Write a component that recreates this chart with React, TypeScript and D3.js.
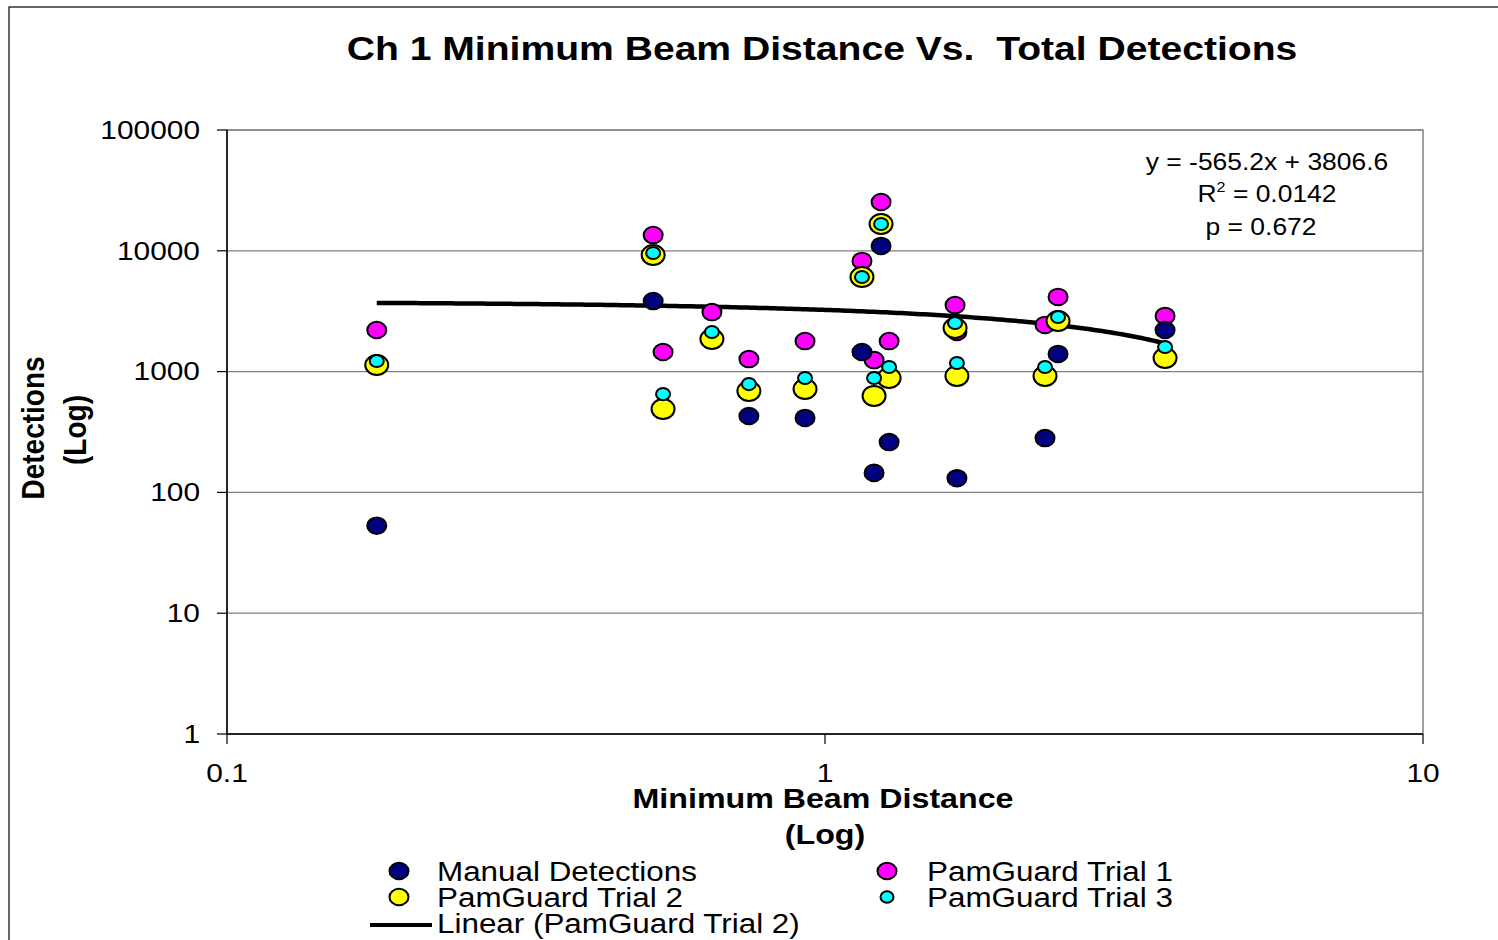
import React from "react";
import * as d3 from "d3";

// Minimum beam distance (x) shared by all series
const distances = [0.178, 0.516, 0.536, 0.647, 0.746, 0.926, 1.153, 1.208, 1.241, 1.28, 1.65, 1.662, 2.333, 2.453, 3.704];
const manualDetections: (number | null)[] = [53, 3840, null, null, 429, 413, 1453, 145, 10960, 261, null, 131, 282, 1399, 2210];
const trial1 = [2210, 13500, 1453, 3113, 1271, 1791, 8240, 1247, 25350, 1791, 3558, 2128, 2432, 4150, 2886];
const trial2 = [1135, 9230, 490, 1862, 691, 718, 6070, 629, 16670, 885, 2296, 920, 920, 2624, 1297];
const trial3 = [1224, 9590, 652, 2128, 789, 885, 6070, 885, 16670, 1092, 2525, 1178, 1092, 2832, 1599];

const yTicks = [1, 10, 100, 1000, 10000, 100000];
const xTicks = [0.1, 1, 10];
const trendSlope = -565.2;
const trendIntercept = 3806.6;
const equationLines = ["y = -565.2x + 3806.6", "0.0142", "p = 0.672"];

const W = 1498, H = 940;
const SX = 1.15;
const FONT = "'Liberation Sans', Arial, sans-serif";

function T({ x, y, size, bold, anchor = "middle", rotate, children, pre }: any) {
  return (
    <text
      transform={`translate(${x},${y}) scale(${SX},1)${rotate ? ` rotate(${rotate})` : ""}`}
      fontSize={size}
      fontWeight={bold ? "bold" : "normal"}
      textAnchor={anchor}
      dominantBaseline="central"
      fontFamily={FONT}
      fill="#000"
      style={pre ? { whiteSpace: "pre" } : undefined}
    >
      {children}
    </text>
  );
}

export default function App() {
  const x = d3.scaleLog().domain([0.1, 10]).range([227, 1423]);
  const y = d3.scaleLog().domain([1, 100000]).range([734, 130]);

  const xs = d3.extent(distances) as [number, number];
  const samples = d3.range(0, 201).map((i) => {
    const lx = Math.log10(xs[0]) + (i / 200) * (Math.log10(xs[1]) - Math.log10(xs[0]));
    const xv = Math.pow(10, lx);
    return [xv, trendSlope * xv + trendIntercept] as [number, number];
  });
  const line = d3.line<[number, number]>().x((d) => x(d[0])).y((d) => y(d[1]));

  const series = [
    { name: "PamGuard Trial 1", vals: trial1 as (number | null)[], fill: "#FF00FF", rx: 9.5, ry: 8.3 },
    { name: "Manual Detections", vals: manualDetections, fill: "#000080", rx: 9.5, ry: 8.3 },
    { name: "PamGuard Trial 2", vals: trial2 as (number | null)[], fill: "#FFFF00", rx: 11.5, ry: 10 },
    { name: "PamGuard Trial 3", vals: trial3 as (number | null)[], fill: "#00FFFF", rx: 7, ry: 6.1 },
  ];

  const legend = [
    { name: "Manual Detections", fill: "#000080", rx: 9.5, ry: 8.3, lx: 399, tx: 437, ly: 871 },
    { name: "PamGuard Trial 1", fill: "#FF00FF", rx: 9.5, ry: 8.3, lx: 887, tx: 927, ly: 871 },
    { name: "PamGuard Trial 2", fill: "#FFFF00", rx: 9.5, ry: 8.3, lx: 399, tx: 437, ly: 897 },
    { name: "PamGuard Trial 3", fill: "#00FFFF", rx: 6.5, ry: 5.7, lx: 887, tx: 927, ly: 897 },
  ];

  return (
    <svg width={W} height={H} style={{ position: "absolute", left: 0, top: 0, background: "#fff" }}>
      <rect x={0} y={0} width={W} height={H} fill="#fff" />
      <rect x={9} y={7} width={W + 20} height={H + 20} fill="none" stroke="#000" strokeWidth={1.2} />

      <T x={822} y={48} size={34} bold pre>
        {"Ch 1 Minimum Beam Distance Vs.  Total Detections"}
      </T>

      {/* gridlines */}
      {yTicks.map((t) => (
        <line key={"g" + t} x1={227} x2={1423} y1={y(t)} y2={y(t)} stroke="#808080" strokeWidth={1.2} />
      ))}
      <rect x={227} y={130} width={1196} height={604} fill="none" stroke="#808080" strokeWidth={1.5} />
      {/* axes */}
      <line x1={227} x2={227} y1={130} y2={734} stroke="#000" strokeWidth={1.5} />
      <line x1={227} x2={1423} y1={734} y2={734} stroke="#000" strokeWidth={1.5} />
      {yTicks.map((t) => (
        <g key={"yt" + t}>
          <line x1={217} x2={227} y1={y(t)} y2={y(t)} stroke="#000" strokeWidth={1.2} />
          <T x={200} y={y(t)} size={26} anchor="end">{String(t)}</T>
        </g>
      ))}
      {xTicks.map((t) => (
        <g key={"xt" + t}>
          <line x1={x(t)} x2={x(t)} y1={734} y2={744} stroke="#000" strokeWidth={1.2} />
          <T x={x(t)} y={773} size={26}>{String(t)}</T>
        </g>
      ))}

      <T x={823} y={798} size={28} bold>Minimum Beam Distance</T>
      <T x={825} y={834} size={28} bold>(Log)</T>
      <T x={33} y={428} size={28} bold rotate={-90}>Detections</T>
      <T x={75} y={430} size={28} bold rotate={-90}>(Log)</T>

      {/* trendline */}
      <path d={line(samples) || ""} fill="none" stroke="#000" strokeWidth={4.5} />

      {series.map((s) => (
        <g key={s.name}>
          {s.vals.map((v, i) =>
            v == null ? null : (
              <ellipse key={i} cx={x(distances[i])} cy={y(v)} rx={s.rx} ry={s.ry} fill={s.fill} stroke="#000" strokeWidth={2} />
            )
          )}
        </g>
      ))}

      {/* equation */}
      <T x={1267} y={162} size={23}>{equationLines[0]}</T>
      <text
        transform={`translate(1267,194) scale(${SX},1)`}
        fontSize={23}
        textAnchor="middle"
        dominantBaseline="central"
        fontFamily={FONT}
      >
        <tspan>R</tspan>
        <tspan fontSize={14} dy={-8}>2</tspan>
        <tspan dy={8}>{" = " + equationLines[1]}</tspan>
      </text>
      <T x={1261} y={227} size={23}>{equationLines[2]}</T>

      {/* legend */}
      {legend.map((l) => (
        <g key={"lg" + l.name}>
          <ellipse cx={l.lx} cy={l.ly} rx={l.rx} ry={l.ry} fill={l.fill} stroke="#000" strokeWidth={2} />
          <T x={l.tx} y={l.ly} size={27.3} anchor="start">{l.name}</T>
        </g>
      ))}
      <line x1={370} x2={432} y1={925} y2={925} stroke="#000" strokeWidth={4} />
      <T x={437} y={923} size={27.3} anchor="start">Linear (PamGuard Trial 2)</T>
    </svg>
  );
}
